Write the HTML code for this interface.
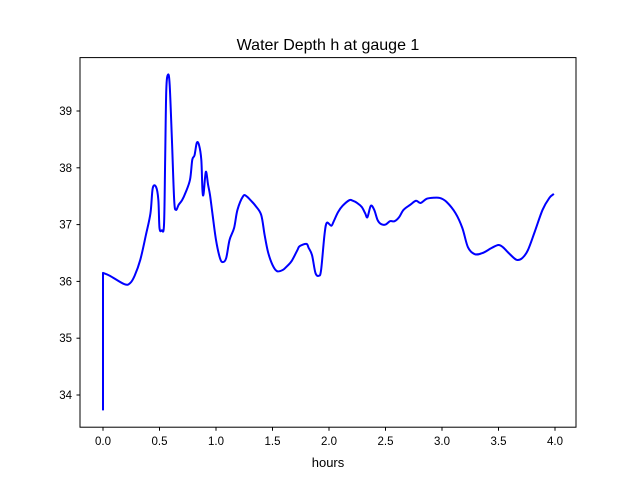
<!DOCTYPE html>
<html><head><meta charset="utf-8"><style>
body{margin:0;background:#fff}
svg text{font-family:"Liberation Sans","DejaVu Sans",sans-serif;fill:#000}
</style></head><body>
<svg id="chart" width="640" height="480" xmlns="http://www.w3.org/2000/svg">
<rect width="640" height="480" fill="#fff"/>
<text x="328" y="50" font-size="16" text-anchor="middle">Water Depth h at gauge 1</text>
<text x="328" y="467" font-size="13" text-anchor="middle">hours</text>
<g id="ticks"></g>
<path id="line" fill="none" stroke="#0000ff" stroke-width="2" stroke-linejoin="round"/>
<rect x="80" y="57.6" width="496" height="369.6" fill="none" stroke="#000" stroke-width="1"/>
</svg>
<script>
const hours=[0,0,0.06,0.19,0.24,0.28,0.33,0.38,0.42,0.44,0.47,0.49,0.5,0.52,0.54,0.55,0.56,0.575,0.59,0.61,0.63,0.646,0.67,0.7,0.73,0.77,0.79,0.81,0.83,0.85,0.87,0.88,0.89,0.91,0.93,0.947,0.97,1.0,1.035,1.06,1.09,1.12,1.16,1.19,1.24,1.27,1.31,1.35,1.4,1.43,1.46,1.5,1.54,1.59,1.63,1.67,1.72,1.74,1.8,1.82,1.85,1.88,1.91,1.93,1.96,1.98,2.02,2.04,2.08,2.12,2.18,2.21,2.25,2.29,2.32,2.34,2.37,2.4,2.43,2.46,2.5,2.54,2.58,2.62,2.66,2.72,2.77,2.81,2.86,2.91,2.98,3.04,3.12,3.18,3.23,3.29,3.36,3.44,3.5,3.54,3.6,3.66,3.71,3.76,3.82,3.89,3.95,3.99];
const depth=[33.73,36.15,36.1,35.95,35.97,36.1,36.38,36.82,37.2,37.64,37.66,37.43,36.94,36.9,37.0,38.14,39.37,39.64,39.46,38.49,37.43,37.26,37.35,37.43,37.56,37.79,38.14,38.22,38.44,38.4,38.14,37.61,37.54,37.93,37.7,37.52,37.17,36.73,36.41,36.34,36.41,36.73,36.94,37.26,37.5,37.5,37.42,37.33,37.17,36.82,36.52,36.29,36.18,36.2,36.27,36.36,36.55,36.62,36.66,36.59,36.46,36.15,36.1,36.2,36.82,37.03,36.98,37.05,37.22,37.33,37.43,37.42,37.38,37.31,37.2,37.13,37.33,37.26,37.08,37.01,37.0,37.06,37.06,37.13,37.26,37.35,37.42,37.38,37.45,37.47,37.47,37.4,37.2,36.94,36.6,36.48,36.5,36.59,36.64,36.6,36.48,36.38,36.41,36.55,36.87,37.26,37.47,37.54];
const xTicks=[0,0.5,1,1.5,2,2.5,3,3.5,4];
const xTickLabels=["0.0","0.5","1.0","1.5","2.0","2.5","3.0","3.5","4.0"];
const yTicks=[34,35,36,37,38,39];
const yTickLabels=["34","35","36","37","38","39"];
const X=v=>103+v*113;
const Y=v=>111+(39-v)*56.8;
const NS="http://www.w3.org/2000/svg";
const g=document.getElementById('ticks');
function mk(tag,attrs){const e=document.createElementNS(NS,tag);for(const k in attrs)e.setAttribute(k,attrs[k]);g.appendChild(e);return e;}
xTicks.forEach((t,i)=>{
  const l=mk('line',{x1:X(t),x2:X(t),y1:427.2,y2:430.7,stroke:'#000'});
  
  
  const tx=mk('text',{x:X(t),y:445,'font-size':'11.5','text-anchor':'middle'});
  tx.textContent=xTickLabels[i];
  
  
});
yTicks.forEach((t,i)=>{
  const l=mk('line',{x1:76.5,x2:80,y1:Y(t),y2:Y(t),stroke:'#000'});
  
  
  const tx=mk('text',{x:72,y:Y(t)+4,'font-size':'11.5','text-anchor':'end'});
  tx.textContent=yTickLabels[i];
  
  
});
const pts=hours.map((h,i)=>[X(h),Y(depth[i])]);
let d='M'+pts[0][0]+','+pts[0][1];
for(let i=1;i<pts.length;i++){
  const p1=pts[i-1],p2=pts[i],p3=pts[Math.min(i+1,pts.length-1)];
  const p0=i<=2?p1:pts[i-2];
  if(i===1){d+=' L'+p2[0]+','+p2[1];continue;}
  const c1=[p1[0]+(p2[0]-p0[0])/6,p1[1]+(p2[1]-p0[1])/6];
  const c2=[p2[0]-(p3[0]-p1[0])/6,p2[1]-(p3[1]-p1[1])/6];
  d+=' C'+c1[0]+','+c1[1]+' '+c2[0]+','+c2[1]+' '+p2[0]+','+p2[1];
}
document.getElementById('line').setAttribute('d',d);
</script>
</body></html>
